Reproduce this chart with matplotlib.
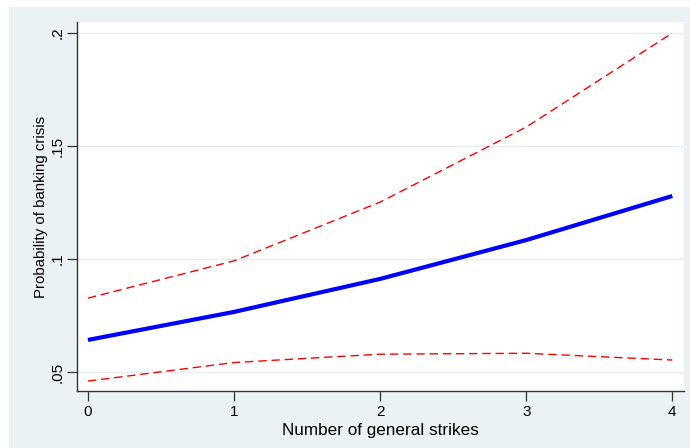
import matplotlib
matplotlib.use("Agg")
import matplotlib.pyplot as plt
from matplotlib.patches import Rectangle

strikes = [0, 1, 2, 3, 4]
prob = [0.0642, 0.0766, 0.0912, 0.1084, 0.1279]
upper = [0.0827, 0.0992, 0.1252, 0.1584, 0.2000]
lower = [0.0460, 0.0542, 0.0579, 0.0583, 0.0553]
yticks = [0.05, 0.10, 0.15, 0.20]
yticklabels = [".05", ".1", ".15", ".2"]
xticks = [0, 1, 2, 3, 4]

plt.rcParams['font.family'] = ['Liberation Sans', 'DejaVu Sans']
W, H = 690, 448
fig = plt.figure(figsize=(W / 100, H / 100), dpi=100)
fig.patch.set_facecolor('white')
bg = '#EAF2F3'
fig.add_artist(Rectangle((9 / W, 0), 1 - 9 / W, 1 - 7 / H, transform=fig.transFigure,
                         facecolor=bg, edgecolor='none', zorder=0))

left, right, top, bottom = 77, 684, 22, 391
ax = fig.add_axes([left / W, 1 - bottom / H, (right - left) / W, (bottom - top) / H])
ax.set_facecolor('white')

ax.plot(strikes, upper, color='#FF0000', lw=1.0, dashes=(6, 3.5))
ax.plot(strikes, lower, color='#FF0000', lw=1.0, dashes=(6, 3.5))
ax.plot(strikes, prob, color='#0000FF', lw=3.0, solid_capstyle='butt')

ax.set_xlim(-0.075, 4.08)
ax.set_ylim(0.0416, 0.2049)
ax.set_yticks(yticks)
ax.set_yticklabels(yticklabels, rotation=90, va='center')
ax.set_xticks(xticks)
ax.set_xticklabels([str(x) for x in xticks])
ax.tick_params(axis='both', direction='out', length=7, width=0.9, color='#333333',
               labelsize=11, labelcolor='black', pad=3)
ax.tick_params(axis='y', pad=2)
ax.grid(axis='y', color='#E6EEF0', lw=1.0)
ax.set_axisbelow(True)
for s in ['top', 'right']:
    ax.spines[s].set_visible(False)
for s in ['left', 'bottom']:
    ax.spines[s].set_color('#333333')
    ax.spines[s].set_linewidth(1.0)

ax.set_xlabel('Number of general strikes', fontsize=12.3, labelpad=3)
ax.set_ylabel('Probability of banking crisis', fontsize=10.8, labelpad=2)

fig.savefig('out.png', dpi=100, facecolor=fig.get_facecolor())
